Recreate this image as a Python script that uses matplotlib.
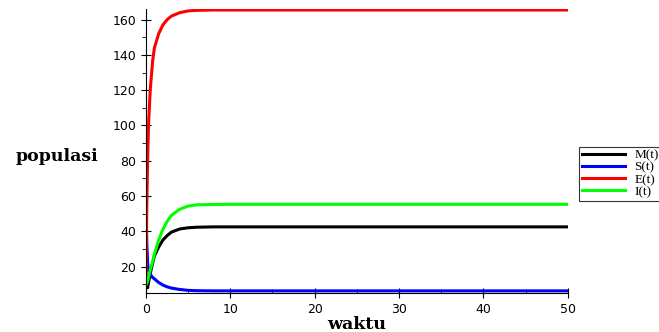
import numpy as np
import matplotlib.pyplot as plt
from matplotlib.ticker import MultipleLocator

# values
t = [0, 0.05, 0.1, 0.2, 0.3, 0.5, 0.8, 1.0, 1.5, 2.0, 2.5, 3.0, 4.0, 5.0, 6.0, 8.0, 10, 20, 30, 40, 50]
M = [15, 10, 8, 8, 11, 16, 22, 26, 31, 35, 37.5, 39.5, 41.3, 42.0, 42.3, 42.5, 42.5, 42.5, 42.5, 42.5, 42.5]
S = [53, 45, 33, 22, 18, 15.5, 13.8, 13, 11, 9.5, 8.5, 7.8, 7.0, 6.5, 6.3, 6.2, 6.2, 6.2, 6.2, 6.2, 6.2]
E = [10, 35, 55, 82, 100, 120, 137, 144, 152, 157, 160, 162, 164, 165, 165.3, 165.5, 165.5, 165.5, 165.5, 165.5, 165.5]
I = [10, 10, 10.5, 12, 14, 18, 23, 27, 35, 41, 45.5, 49, 52.5, 54.3, 55, 55.2, 55.3, 55.3, 55.3, 55.3, 55.3]

names = ['M(t)', 'S(t)', 'E(t)', 'I(t)']
colors = ['black', 'blue', 'red', '#00ff00']

fig = plt.figure(figsize=(6.59, 3.32), dpi=100)
ax = fig.add_axes([0.2215, 0.1175, 0.64, 0.855])

for y, c, n in zip([M, S, E, I], colors, names):
    ax.plot(t, y, color=c, lw=2.2, label=n)

ax.set_xlim(0, 50)
ax.set_ylim(5, 166)
ax.spines['top'].set_visible(False)
ax.spines['right'].set_visible(False)
ax.set_xticks([0, 10, 20, 30, 40, 50])
ax.set_yticks([20, 40, 60, 80, 100, 120, 140, 160])
ax.xaxis.set_minor_locator(MultipleLocator(5))
ax.yaxis.set_minor_locator(MultipleLocator(10))
ax.tick_params(which='major', direction='inout', length=7, labelsize=9)
ax.tick_params(which='minor', direction='in', length=3)
ax.tick_params(axis='y', which='minor', direction='out')

ax.set_ylabel('populasi', family='DejaVu Serif', fontweight='heavy',
              fontsize=12.5, rotation=0, va='center', ha='center')
ax.yaxis.set_label_coords(-0.21, 0.48)
ax.set_xlabel('waktu', family='DejaVu Serif', fontweight='heavy', fontsize=12.5, va='baseline')
ax.xaxis.set_label_coords(0.5, -0.127)

leg = ax.legend(loc='upper left', bbox_to_anchor=(1.0265, 0.516), frameon=True, fancybox=False,
                edgecolor='black', prop={'family': 'Liberation Serif', 'size': 9.5},
                handlelength=3.3, borderpad=0.2, labelspacing=0.0, handletextpad=0.7,
                borderaxespad=0)
leg.get_frame().set_linewidth(0.8)

fig.savefig('out.png')
